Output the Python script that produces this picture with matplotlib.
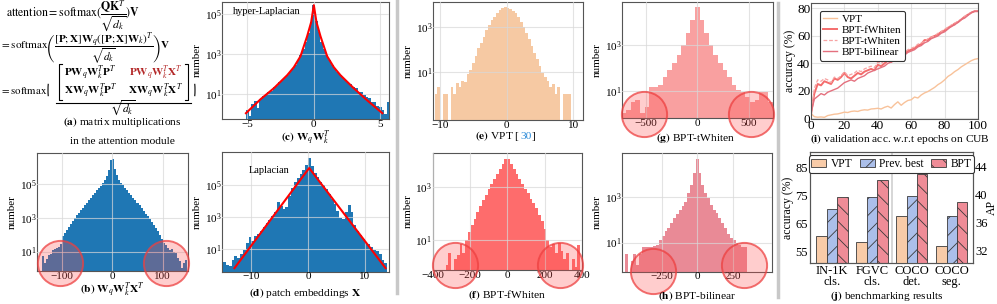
import numpy as np
import matplotlib
matplotlib.use('Agg')
import matplotlib.pyplot as plt
from matplotlib.patches import Arc, Patch
from matplotlib.lines import Line2D
from matplotlib.ticker import FixedLocator, NullLocator, LogFormatterMathtext

plt.rcParams['font.family'] = 'Liberation Serif'
plt.rcParams['mathtext.fontset'] = 'stix'
plt.rcParams['hatch.linewidth'] = 0.6

# ---- histogram data: bin edges + log10(count) per bin (None = empty bin) ----
b_edges = np.arange(-140, 149, 4)
b_log = [0.75, 0.3, 0.55, 0.8, 0.85, 1.1, 1.15, 1.2, 1.25, 1.45,
         1.9, 2.1, 2.3, 2.48, 2.65, 2.83, 3.0, 3.15, 3.3, 3.45,
         3.6, 3.76, 3.9, 4.06, 4.2, 4.36, 4.5, 4.64, 4.78, 4.92,
         5.06, 5.24, 5.5, 5.85, 6.45, 6.5, 5.9, 5.55, 5.26, 5.08,
         4.94, 4.8, 4.65, 4.5, 4.35, 4.2, 4.05, 3.9, 3.75, 3.6,
         3.43, 3.26, 3.1, 2.92, 2.75, 2.57, 2.4, 2.2, 2.0, 1.75,
         1.5, 1.42, 1.2, 1.1, 1.15, 1.0, 0.9, 0.6, 0.45, 0.0, 0.3, 0.48]

c_edges = np.linspace(-5.1, 5.7, 55)
c_log = [0.2, -0.1, 0.5, 0.65, 0.3, 0.75, 0.9, 0.95, 1.1, 1.15,
         1.35, 1.42, 1.6, 1.68, 1.82, 1.95, 2.1, 2.25, 2.45, 2.7,
         2.95, 3.25, 3.6, 4.05, 4.6, 5.45, 4.65, 4.1, 3.6, 3.25,
         2.95, 2.7, 2.45, 2.25, 2.1, 1.95, 1.8, 1.72, 1.55, 1.5,
         1.35, 1.3, 1.12, 1.1, 0.95, 0.85, 0.8, 0.6, 0.6, 0.4,
         0.35, 0.2, 0.0, 0.6]
c_fit_x = [-5.1, -4.0, -3.0, -2.0, -1.5, -1.0, -0.5, -0.2, 0.0, 0.2, 0.5, 1.0, 1.5, 2.0, 3.0, 4.0, 5.15]
c_fit_log = [0.05, 0.75, 1.3, 1.95, 2.35, 2.9, 3.9, 4.6, 5.45, 4.6, 3.9, 2.9, 2.35, 1.95, 1.3, 0.7, 0.05]

d_edges = np.linspace(-15, 14, 59)
d_log = [0.2, 0.0, -0.1, 0.3, 0.55, 0.4, 0.7, 0.9, 1.35, 1.75,
         1.5, 1.8, 1.95, 2.15, 2.4, 2.6, 2.8, 3.05, 3.35, 3.95,
         3.7, 3.5, 3.65, 4.3, 4.85, 5.2, 5.45, 5.7, 5.95, 6.3,
         6.75, 6.2, 5.8, 5.5, 5.2, 5.0, 4.75, 4.45, 4.15, 3.8,
         3.4, 2.95, 2.85, 3.3, 3.75, 3.3, 2.5, 2.1, 1.85, 1.6,
         1.45, 1.3, 1.1, 0.95, 0.85, 0.65, 0.3, 0.1]
d_fit_x = [-13.0, 0.2, 13.7]
d_fit_log = [-0.22, 6.09, -0.22]

e_edges = np.linspace(-10.8, 9.6, 52)
e_log = [0.0, 0.3, None, 0.0, 0.0, None, 0.3, 0.0, 0.48, 0.3,
         0.6, 0.55, 0.9, 1.1, 1.4, 1.7, 2.05, 2.3, 2.55, 2.85,
         3.1, 3.3, 3.45, 3.6, 3.74, 3.83, 3.88, 3.85, 3.8, 3.72,
         3.6, 3.42, 3.22, 3.0, 2.75, 2.45, 2.15, 1.85, 1.55, 1.25,
         0.95, 0.75, 0.6, 0.3, 0.45, 0.0, 0.3, None, 0.0, 0.0, 0.0]

f_edges = np.linspace(-345, 390, 50)
f_log = [None, 0.06, 0.5, None, 0.3, 0.45, 0.87, 0.5, 1.0, 1.3,
         1.55, 1.78, 2.05, 2.28, 2.5, 2.7, 2.9, 3.1, 3.28, 3.47,
         3.65, 3.85, 4.05, 4.05, 3.85, 3.65, 3.47, 3.28, 3.1, 2.92,
         2.75, 2.55, 2.38, 2.2, 1.95, 1.7, 1.4, 1.0, 0.75, 0.85,
         0.5, 0.9, 0.6, 0.3, 0.5, None, 0.3, 0.0, 0.8]

g_edges = np.linspace(-739, 739, 34)
g_log = [0.0, 0.15, 0.51, 0.59, 0.0, 0.28, 1.15, 1.15, 1.25, 1.6,
         1.9, 2.2, 2.56, 3.0, 3.53, 4.1, 4.68, 4.1, 3.53, 3.0,
         2.56, 2.2, 1.9, 1.6, 1.25, 1.03, 0.95, 0.73, 0.51, 0.59,
         0.95, 0.95, 0.5]

h_edges = np.linspace(-510, 350, 44)
h_log = [0.5, None, 0.2, 0.5, 0.0, 0.5, 0.82, 0.82, 0.82, 0.82,
         0.85, 0.9, 1.12, 1.3, 1.5, 1.65, 1.85, 2.1, 2.25, 2.44,
         2.6, 2.8, 3.2, 3.54, 4.06, 4.67, 4.06, 3.54, 3.2, 2.95,
         2.66, 2.44, 2.3, 2.1, 1.85, 1.65, 1.4, 1.2, 1.12, 1.0,
         0.9, 0.8, 0.8]

# highlighted tails: (x, log10 y) of circle centres
b_circles = [(-103, 0.31), (107, 0.31)]
f_circles = [(-280, 0.06), (282, 0.06)]
g_circles = [(-524, -0.02), (525, -0.02)]
h_circles = [(-314, -0.23), (329, 0.0)]

# ---- (i) validation accuracy on CUB ----
epochs = np.arange(0, 101, 2)
acc_vpt = [3.5, 1.2, 0.8, 1.0, 0.7, 2.0, 2.5, 3.0, 3.2, 3.8, 4.5, 4.2, 5.0, 5.3, 5.0, 5.8, 6.2,
           6.0, 6.8, 7.0, 7.3, 6.8, 8.0, 8.8, 7.5, 10.0, 12.0, 9.5, 11.5, 13.0, 13.5, 15.5, 14.8,
           17.0, 18.5, 19.5, 21.0, 22.5, 24.5, 26.0, 28.0, 30.5, 32.0, 34.0, 35.5, 37.5, 39.0,
           40.5, 42.0, 43.0, 43.5]
acc_fwhiten = [3, 18, 25, 24, 27, 26, 25, 29, 28, 30, 33, 30, 29, 31, 33, 32, 34, 35, 36, 35,
               39, 38, 40, 42, 41, 44, 45, 46, 47, 49, 50, 51, 53, 54, 57, 57, 59, 60, 61, 63,
               64, 66, 67, 69, 70, 72, 74, 75.5, 77, 78, 78]
acc_twhiten = [2, 22, 28, 27, 29, 28, 26, 30, 29, 31, 34, 31, 32, 33, 35, 34, 36, 37, 38, 37,
               41, 40, 42, 43, 44, 46, 47, 47, 48, 50, 51, 52, 54, 55, 56, 58, 59, 60, 62, 63,
               65, 66, 68, 69, 71, 72, 74, 76, 77, 78, 78]
acc_bilinear = [4, 14, 16, 18, 17, 19, 20, 21, 22, 24, 26, 27, 28, 27, 29, 30, 31, 33, 34, 35,
                36, 37, 38, 40, 41, 42, 44, 45, 46, 48, 49, 50, 52, 53, 55, 56, 58, 59, 60, 62,
                63, 65, 67, 68, 70, 72, 73, 75, 77, 78, 78]

# ---- (j) benchmarking results ----
bench_groups = ['IN-1K\ncls.', 'FGVC\ncls.', 'COCO\ndet.', 'COCO\nseg.']
vpt_acc = [60.6, 58.2]
prev_acc = [70.1, 74.3]
bpt_acc = [74.3, 80.5]
vpt_ap = [36.9, 32.7]
prev_ap = [39.8, 36.9]
bpt_ap = [43.0, 38.9]

W, H = 997, 304
fig = plt.figure(figsize=(W / 100, H / 100), dpi=100)


def add_ax(x0, y0, x1, y1):
    return fig.add_axes([x0 / W, 1 - y1 / H, (x1 - x0) / W, (y1 - y0) / H])


def ftext(x, y, s, **kw):
    kw.setdefault('ha', 'center')
    kw.setdefault('va', 'center')
    return fig.text(x / W, 1 - y / H, s, **kw)


def style_ax(ax, fs=8):
    for sp in ax.spines.values():
        sp.set_color('#555555')
        sp.set_linewidth(0.8)
    ax.tick_params(length=0, labelsize=fs, pad=0.5)
    ax.grid(True, color='#d8d8d8', lw=0.8, alpha=0.7)


def hist_panel(ax, edges, logs, color, xlim, ylog, xticks, yticks, circles=()):
    logs = np.array(logs, dtype=float)
    base = 10 ** ylog[0]
    counts = np.where(np.isnan(logs), base, 10 ** np.nan_to_num(logs, nan=0.0))
    ax.stairs(counts, edges, fill=True, color=color, baseline=base, lw=0, zorder=1)
    ax.set_yscale('log')
    ax.set_ylim(10 ** ylog[0], 10 ** ylog[1])
    ax.set_xlim(*xlim)
    ax.set_xticks(xticks)
    ax.yaxis.set_major_locator(FixedLocator(yticks))
    ax.yaxis.set_major_formatter(LogFormatterMathtext())
    ax.yaxis.set_minor_locator(NullLocator())
    ax.set_ylabel('number', fontsize=8, labelpad=2)
    style_ax(ax)
    ax.set_axisbelow(False)
    for cx, cy in circles:
        ax.scatter([cx], [10 ** cy], s=1060, marker='o', facecolor=(1, 0.3, 0.3, 0.28),
                   edgecolor=(0.93, 0.25, 0.25, 0.75), lw=1.4, clip_on=False, zorder=5)


blue = '#1f77b4'

ax_b = add_ax(37, 153, 188, 271)
hist_panel(ax_b, b_edges, b_log, blue, (-149, 150), (-0.15, 6.86), [-100, 0, 100],
           [1e1, 1e3, 1e5], b_circles)

ax_c = add_ax(222, 2, 389, 119)
hist_panel(ax_c, c_edges, c_log, blue, (-6.9, 5.65), (-0.24, 5.61), [-5, 0, 5], [1e1, 1e3, 1e5])
ax_c.plot(c_fit_x, 10 ** np.array(c_fit_log), color='red', lw=1.5, zorder=3)
ax_c.text(-6.1, 10 ** 5.15, 'hyper-Laplacian', fontsize=7.5, ha='left', va='center')

ax_d = add_ax(222, 152, 389, 271.5)
hist_panel(ax_d, d_edges, d_log, blue, (-15.2, 14.3), (-0.43, 7.1), [-10, 0, 10], [1e1, 1e3, 1e5])
ax_d.plot(d_fit_x, 10 ** np.array(d_fit_log), color='red', lw=1.5, zorder=3)
ax_d.text(-6.9, 10 ** 5.93, 'Laplacian', fontsize=7.5, ha='center', va='center')

ax_e = add_ax(433, 2, 583, 120)
hist_panel(ax_e, e_edges, e_log, '#f6c9a3', (-11.05, 11.46), (-1.15, 4.11), [-10, 0, 10], [1e1, 1e3])

ax_f = add_ax(432.5, 152.7, 582, 270)
hist_panel(ax_f, f_edges, f_log, '#fe6c6c', (-400, 400), (-0.125, 4.28),
           [-400, -200, 0, 200, 400], [1e1, 1e3], f_circles)

ax_g = add_ax(622, 2, 773, 118)
hist_panel(ax_g, g_edges, g_log, '#f9a0a0', (-735, 739), (-0.2, 4.89), [-500, 0, 500],
           [1e1, 1e3], g_circles)

ax_h = add_ax(622, 153, 772, 271.7)
hist_panel(ax_h, h_edges, h_log, '#e98a96', (-530, 527), (-0.28, 4.95), [-250, 0, 250],
           [1e1, 1e3], h_circles)

# ---- (i) ----
ax_i = add_ax(811, 3, 978, 119)
ax_i.plot(epochs, acc_vpt, color='#f8c29a', lw=1.0, label='VPT')
ax_i.plot(epochs, acc_fwhiten, color='#f46c6c', lw=1.4, label='BPT-fWhiten')
ax_i.plot(epochs, acc_twhiten, color='#f7a3a3', lw=0.9, ls=(0, (3, 1.5)), label='BPT-tWhiten')
ax_i.plot(epochs, acc_bilinear, color='#e4707e', lw=1.0, label='BPT-bilinear')
ax_i.set_xlim(0, 100)
ax_i.set_ylim(-0.5, 84)
ax_i.set_xticks([0, 20, 40, 60, 80, 100])
ax_i.set_yticks([0, 20, 40, 60, 80])
style_ax(ax_i, fs=9.5)
ax_i.set_ylabel('accuracy (%)', fontsize=8.5, labelpad=1)
leg = ax_i.legend(loc='upper left', fontsize=8, handlelength=1.2, handletextpad=0.5,
                  borderpad=0.3, labelspacing=0.12, framealpha=1, bbox_to_anchor=(0.02, 0.98))
leg.get_frame().set_edgecolor('#333333')
leg.get_frame().set_linewidth(0.8)

# ---- (j) ----
ax_j = add_ax(810, 152, 973, 263)
ax_j2 = ax_j.twinx()
xpos = np.arange(len(bench_groups))
bw = 0.26
c_vpt, c_prev, c_bpt = '#f8cba8', '#abbfea', '#ef8c97'
kw = dict(edgecolor='#3a3a3a', lw=0.6)
ax_j.bar(xpos[:2] - bw, vpt_acc, bw, color=c_vpt, **kw)
ax_j.bar(xpos[:2], prev_acc, bw, color=c_prev, hatch='//', **kw)
ax_j.bar(xpos[:2] + bw, bpt_acc, bw, color=c_bpt, hatch='\\\\', **kw)
ax_j2.bar(xpos[2:] - bw, vpt_ap, bw, color=c_vpt, **kw)
ax_j2.bar(xpos[2:], prev_ap, bw, color=c_prev, hatch='//', **kw)
ax_j2.bar(xpos[2:] + bw, bpt_ap, bw, color=c_bpt, hatch='\\\\', **kw)
ax_j.axvline(1.5, color='#cfcfcf', lw=1.2)
ax_j.set_xlim(-0.55, 3.53)
ax_j.set_ylim(50.8, 90.6)
ax_j2.set_ylim(30.2, 46.1)
ax_j.set_yticks([55, 65, 75, 85])
ax_j2.set_yticks([32, 36, 40, 44])
ax_j.set_xticks(xpos)
ax_j.set_xticklabels(bench_groups, fontsize=9.5, linespacing=0.85)
for a in (ax_j, ax_j2):
    for sp in a.spines.values():
        sp.set_color('#555555')
        sp.set_linewidth(0.8)
    a.tick_params(length=0, labelsize=9, pad=1.5)
ax_j.set_ylabel('accuracy (%)', fontsize=8.5, labelpad=1)
ax_j2.set_ylabel('AP', fontsize=8.5, labelpad=-1)
handles = [Patch(facecolor=c_vpt, **kw), Patch(facecolor=c_prev, hatch='//', **kw),
           Patch(facecolor=c_bpt, hatch='\\\\', **kw)]
leg = ax_j2.legend(handles, ['VPT', 'Prev. best', 'BPT'], loc='upper center', ncol=3,
                   fontsize=8.3, handlelength=1.3, handletextpad=0.4, columnspacing=0.6,
                   borderpad=0.25, borderaxespad=0.2, framealpha=1, bbox_to_anchor=(0.5, 0.99))
leg.get_frame().set_edgecolor('#333333')
leg.get_frame().set_linewidth(0.8)

# ---- (a) attention equations ----
ftext(6, 16.5, r'$\mathrm{attention} = \mathrm{softmax}(\dfrac{\mathbf{QK}^T}{\sqrt{d_k}})\mathbf{V}$',
      fontsize=8.5, ha='left')
ftext(0, 48.5, r'$=\mathrm{softmax}\left(\dfrac{[\mathbf{P};\mathbf{X}]\mathbf{W}_q([\mathbf{P};\mathbf{X}]\mathbf{W}_k)^T}{\sqrt{d_k}}\right)\mathbf{V}$',
      fontsize=8, ha='left')
ftext(0, 90, r'$=\mathrm{softmax}$', fontsize=7.8, ha='left')
mat_fs = 8
ftext(90.7, 73, r'$\mathbf{PW}_q\mathbf{W}_k^T\mathbf{P}^T$', fontsize=mat_fs)
ftext(155.5, 73, r'$\mathbf{PW}_q\mathbf{W}_k^T\mathbf{X}^T$', fontsize=mat_fs, color='#b32626')
ftext(90.7, 91, r'$\mathbf{XW}_q\mathbf{W}_k^T\mathbf{P}^T$', fontsize=mat_fs)
ftext(155.5, 91, r'$\mathbf{XW}_q\mathbf{W}_k^T\mathbf{X}^T$', fontsize=mat_fs)
ftext(123, 108, r'$\sqrt{d_k}$', fontsize=8.3)
line_kw = dict(color='black', lw=0.8, transform=fig.transFigure)
fig.add_artist(Line2D(np.array([62, 59, 59, 62]) / W, 1 - np.array([64, 64, 100, 100]) / H, **line_kw))
fig.add_artist(Line2D(np.array([185, 188, 188, 185]) / W, 1 - np.array([64, 64, 100, 100]) / H, **line_kw))
fig.add_artist(Line2D(np.array([56, 191]) / W, 1 - np.array([102.5, 102.5]) / H, **line_kw))
fig.add_artist(Arc((60 / W, 1 - 90 / H), 24 / W, 60 / H, theta1=120, theta2=240,
                   transform=fig.transFigure, color='black', lw=0.8))
fig.add_artist(Arc((183 / W, 1 - 90 / H), 24 / W, 60 / H, theta1=-60, theta2=60,
                   transform=fig.transFigure, color='black', lw=0.8))

# ---- captions ----
cap_fs = 8.2
ftext(122, 122, r'$\mathbf{(a)}$ matrix multiplications', fontsize=cap_fs)
ftext(122, 142, 'in the attention module', fontsize=cap_fs)
ftext(112, 290, r'$\mathbf{(b)\ W}_q\mathbf{W}_k^T\mathbf{X}^T$', fontsize=cap_fs)
ftext(306, 138, r'$\mathbf{(c)\ W}_q\mathbf{W}_k^T$', fontsize=cap_fs)
ftext(305, 293, r'$\mathbf{(d)}$ patch embeddings $\mathbf{X}$', fontsize=cap_fs)
ftext(507, 295, r'$\mathbf{(f)}$ BPT-fWhiten', fontsize=cap_fs)
ftext(696, 138, r'$\mathbf{(g)}$ BPT-tWhiten', fontsize=cap_fs)
ftext(697, 296, r'$\mathbf{(h)}$ BPT-bilinear', fontsize=cap_fs)
ftext(900, 139, r'$\mathbf{(i)}$ validation acc. w.r.t epochs on CUB', fontsize=cap_fs)
ftext(887, 296, r'$\mathbf{(j)}$ benchmarking results', fontsize=cap_fs)

# (e) caption with coloured citation
parts = [(r'$\mathbf{(e)}$ VPT [', 'black'), ('30', '#2a8ad8'), (']', 'black')]
renderer = fig.canvas.get_renderer()
texts = [ftext(0, 136, s, fontsize=cap_fs, color=c, ha='left') for s, c in parts]
widths = [t.get_window_extent(renderer).width for t in texts]
xs = 505 - sum(widths) / 2
for t, w in zip(texts, widths):
    t.set_x(xs / W)
    xs += w

# grey separators
for x, y0, y1 in [(396.5, 0, 293), (777.5, 3, 297)]:
    fig.add_artist(Line2D([x / W, x / W], [1 - y0 / H, 1 - y1 / H], color='#c8c8c8', lw=2.5,
                          transform=fig.transFigure))

fig.savefig('out.png', dpi=100)
